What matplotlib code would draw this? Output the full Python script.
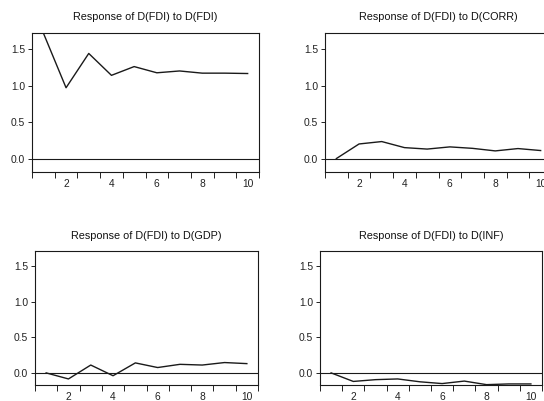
import numpy as np
import matplotlib
matplotlib.use('Agg')
import matplotlib.pyplot as plt

plt.rcParams['font.family'] = ['Liberation Sans', 'DejaVu Sans']

periods = np.arange(1, 11)

resp_fdi = [1.72, 0.97, 1.44, 1.14, 1.26, 1.175, 1.20, 1.17, 1.17, 1.165]
resp_corr = [0.0, 0.20, 0.233, 0.15, 0.13, 0.16, 0.14, 0.105, 0.137, 0.11]
resp_gdp = [0.0, -0.085, 0.11, -0.04, 0.14, 0.075, 0.12, 0.11, 0.145, 0.13]
resp_inf = [0.0, -0.12, -0.095, -0.085, -0.125, -0.15, -0.115, -0.165, -0.155, -0.155]

titles = ['Response of D(FDI) to D(FDI)', 'Response of D(FDI) to D(CORR)',
          'Response of D(FDI) to D(GDP)', 'Response of D(FDI) to D(INF)']
series = [resp_fdi, resp_corr, resp_gdp, resp_inf]
yticks = [0.0, 0.5, 1.0, 1.5]
xlabels = [2, 4, 6, 8, 10]

W, H = 544, 401
# panel boxes in pixels: left, top, right, bottom
boxes = [(32, 33, 259, 172), (325, 33, 552, 172),
         (35, 251, 258, 385), (320, 251, 542, 385)]
ylims = [(-0.184, 1.72), (-0.184, 1.72), (-0.17, 1.71), (-0.17, 1.71)]

fig = plt.figure(figsize=(W / 100, H / 100), dpi=100)

for (l, t, r, b), title, vals, yl in zip(boxes, titles, series, ylims):
    ax = fig.add_axes([l / W, 1 - b / H, (r - l) / W, (b - t) / H])
    ax.plot(periods, vals, color='#1a1a1a', lw=1.0)
    ax.axhline(0, color='#1a1a1a', lw=0.8)
    ax.set_xlim(0.5, 10.5)
    ax.set_ylim(*yl)
    ax.set_yticks(yticks)
    ax.set_yticklabels(['0.0', '0.5', '1.0', '1.5'])
    ax.set_xticks(xlabels)
    ax.set_xticklabels([str(v) for v in xlabels])
    ax.set_xticks(np.arange(0.5, 11, 1), minor=True)
    ax.tick_params(axis='x', which='major', length=0, pad=5, labelsize=7.4, colors='#222222')
    ax.tick_params(axis='x', which='minor', length=4, width=0.7, direction='out', color='#222222')
    ax.tick_params(axis='y', length=3, width=0.7, pad=2, labelsize=7.4, colors='#222222')
    for sp in ax.spines.values():
        sp.set_linewidth(0.8)
        sp.set_color('#1a1a1a')
    ax.set_title(title, fontsize=7.8, pad=9, color='#111111')

fig.savefig('out.png', dpi=100)
